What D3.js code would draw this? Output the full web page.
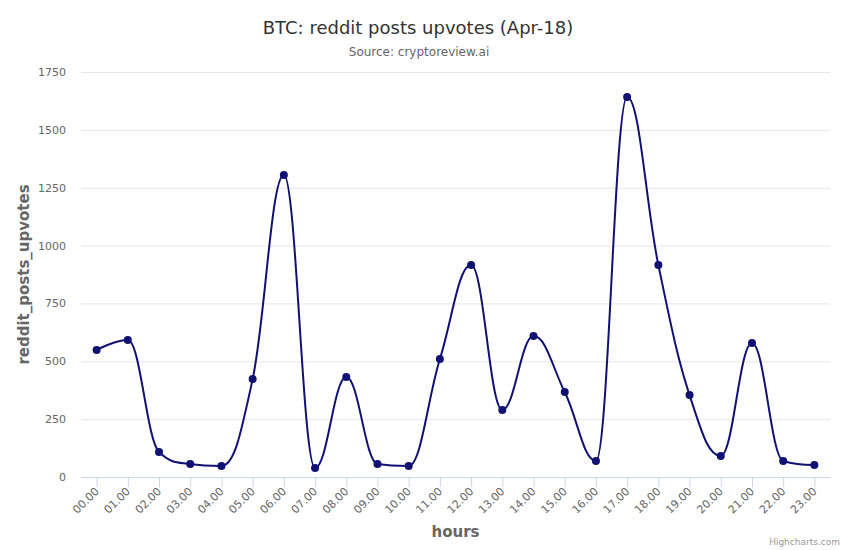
<!DOCTYPE html>
<html lang="en">
<head>
    <meta charset="UTF-8">
    <title>BTC: reddit posts upvotes (Apr-18)</title>
    <style>
        body { margin: 0; background: #fff; }
        svg { font-family: "DejaVu Sans", sans-serif; }
    </style>
</head>
<body>
<script src="https://cdn.jsdelivr.net/npm/d3@7"></script>
<script>
    const hours = ["00.00", "01.00", "02.00", "03.00", "04.00", "05.00", "06.00", "07.00",
        "08.00", "09.00", "10.00", "11.00", "12.00", "13.00", "14.00", "15.00",
        "16.00", "17.00", "18.00", "19.00", "20.00", "21.00", "22.00", "23.00"];
    const upvotes = [549, 592, 108, 56, 48, 423, 1305, 39, 432, 56, 48, 510,
        916, 290, 609, 367, 69, 1642, 916, 354, 91, 579, 69, 52];
    const yTicks = [0, 250, 500, 750, 1000, 1250, 1500, 1750];

    const width = 850, height = 550;
    const margin = ({top: 72, right: 20, bottom: 73, left: 81});

    const svg = d3.select("body")
        .append("svg")
        .attr("width", width)
        .attr("height", height);

    const x = d3.scaleBand()
        .domain(hours)
        .range([margin.left, width - margin.right]);

    const y = d3.scaleLinear()
        .domain([0, 1750])
        .range([height - margin.bottom, margin.top]);

    // grid lines
    svg.append("g")
        .selectAll("line")
        .data(yTicks)
        .join("line")
        .attr("x1", margin.left)
        .attr("x2", width - margin.right)
        .attr("y1", d => y(d) + 0.5)
        .attr("y2", d => y(d) + 0.5)
        .attr("stroke", "#e6e6e6");

    // y labels
    svg.append("g")
        .selectAll("text")
        .data(yTicks)
        .join("text")
        .attr("x", 66)
        .attr("y", d => y(d) + 4)
        .attr("text-anchor", "end")
        .attr("fill", "#666")
        .style("font-size", "11px")
        .text(d => d);

    // x axis line and ticks
    const xAxis = svg.append("g");
    xAxis.append("line")
        .attr("x1", margin.left)
        .attr("x2", width - margin.right)
        .attr("y1", y(0) + 0.5)
        .attr("y2", y(0) + 0.5)
        .attr("stroke", "#ccd6eb");
    xAxis.selectAll("line.tick")
        .data(hours)
        .join("line")
        .attr("class", "tick")
        .attr("x1", d => x(d) + x.bandwidth() / 2 + 0.5)
        .attr("x2", d => x(d) + x.bandwidth() / 2 + 0.5)
        .attr("y1", y(0))
        .attr("y2", y(0) + 10)
        .attr("stroke", "#ccd6eb");
    xAxis.selectAll("text")
        .data(hours)
        .join("text")
        .attr("transform", d => `translate(${x(d) + x.bandwidth() / 2 + 3},${y(0) + 15}) rotate(-45)`)
        .attr("text-anchor", "end")
        .attr("fill", "#666")
        .style("font-size", "11px")
        .text(d => d);

    // Highcharts-like spline
    const pts = upvotes.map((v, i) => ({x: x(hours[i]) + x.bandwidth() / 2, y: y(v)}));
    function splinePath(points) {
        const sm = 1.5, den = 2.5;
        let d = `M${points[0].x},${points[0].y}`;
        for (let i = 1; i < points.length; i++) {
            const p = points[i], last = points[i - 1], next = points[i + 1];
            let lcx = p.x, lcy = p.y;
            if (next) {
                lcx = (sm * p.x + last.x) / den;
                lcy = (sm * p.y + last.y) / den;
                const rcx = (sm * p.x + next.x) / den;
                let rcy = (sm * p.y + next.y) / den;
                const corr = ((rcy - lcy) * (rcx - p.x)) / (rcx - lcx) + p.y - rcy;
                lcy += corr;
                rcy += corr;
                if (lcy > last.y && lcy > p.y) {
                    lcy = Math.max(last.y, p.y);
                    rcy = 2 * p.y - lcy;
                } else if (lcy < last.y && lcy < p.y) {
                    lcy = Math.min(last.y, p.y);
                    rcy = 2 * p.y - lcy;
                }
                if (rcy > next.y && rcy > p.y) {
                    rcy = Math.max(next.y, p.y);
                    lcy = 2 * p.y - rcy;
                } else if (rcy < next.y && rcy < p.y) {
                    rcy = Math.min(next.y, p.y);
                    lcy = 2 * p.y - rcy;
                }
                p.rcx = rcx;
                p.rcy = rcy;
            }
            const c1x = last.rcx !== undefined ? last.rcx : last.x;
            const c1y = last.rcy !== undefined ? last.rcy : last.y;
            d += `C${c1x},${c1y},${lcx},${lcy},${p.x},${p.y}`;
        }
        return d;
    }

    svg.append("path")
        .attr("d", splinePath(pts))
        .attr("fill", "none")
        .attr("stroke", "#111173")
        .attr("stroke-width", 2);

    svg.append("g")
        .selectAll("circle")
        .data(upvotes)
        .join("circle")
        .attr("cx", (d, i) => x(hours[i]) + x.bandwidth() / 2)
        .attr("cy", d => y(d))
        .attr("r", 4)
        .attr("fill", "#111173");

    // titles
    svg.append("text")
        .attr("x", 418)
        .attr("y", 34)
        .attr("text-anchor", "middle")
        .attr("fill", "#333")
        .style("font-size", "18px")
        .text("BTC: reddit posts upvotes (Apr-18)");

    svg.append("text")
        .attr("x", 419)
        .attr("y", 56)
        .attr("text-anchor", "middle")
        .attr("fill", "#666")
        .style("font-size", "12px")
        .text("Source: cryptoreview.ai");

    svg.append("text")
        .attr("transform", `translate(29,${(margin.top + height - margin.bottom) / 2}) rotate(-90)`)
        .attr("text-anchor", "middle")
        .attr("fill", "#666")
        .style("font-size", "15px")
        .style("font-weight", "bold")
        .text("reddit_posts_upvotes");

    svg.append("text")
        .attr("x", (margin.left + width - margin.right) / 2)
        .attr("y", 537)
        .attr("text-anchor", "middle")
        .attr("fill", "#666")
        .style("font-size", "15px")
        .style("font-weight", "bold")
        .text("hours");

    svg.append("text")
        .attr("x", 840)
        .attr("y", 545)
        .attr("text-anchor", "end")
        .attr("fill", "#999")
        .style("font-size", "9px")
        .text("Highcharts.com");
</script>
</body>
</html>
